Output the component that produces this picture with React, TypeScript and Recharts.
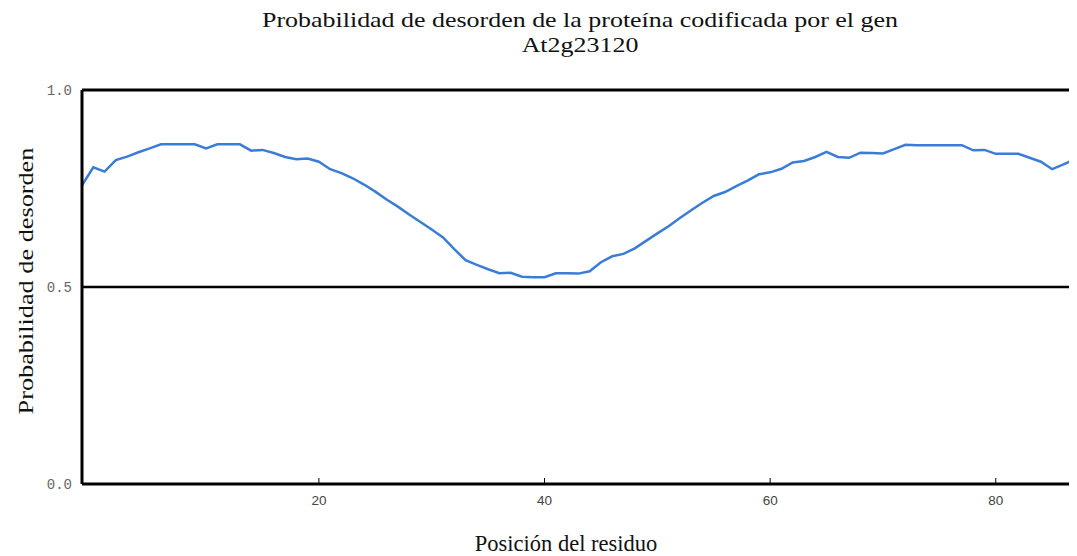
import React from "react";
import { LineChart, Line, XAxis, YAxis, ReferenceLine } from "recharts";

const positions: number[] = [
  -1, 0, 1, 2, 3, 4, 5, 6, 7, 8, 9, 10, 11, 12, 13, 14, 15, 16, 17, 18, 19, 20,
  21, 22, 23, 24, 25, 26, 27, 28, 29, 30, 31, 32, 33, 34, 35, 36, 37, 38, 39, 40,
  41, 42, 43, 44, 45, 46, 47, 48, 49, 50, 51, 52, 53, 54, 55, 56, 57, 58, 59, 60,
  61, 62, 63, 64, 65, 66, 67, 68, 69, 70, 71, 72, 73, 74, 75, 76, 77, 78, 79, 80,
  81, 82, 83, 84, 85, 86, 87,
];

const disorder: number[] = [
  0.758, 0.804, 0.793, 0.822, 0.831, 0.842, 0.852, 0.862, 0.862, 0.862, 0.862, 0.852,
  0.862, 0.862, 0.862, 0.846, 0.848, 0.84, 0.83, 0.824, 0.826, 0.818,
  0.799, 0.789, 0.776, 0.76, 0.742, 0.722, 0.704, 0.684, 0.665, 0.646,
  0.626, 0.596, 0.568, 0.556, 0.545, 0.535, 0.536, 0.526, 0.525, 0.525,
  0.535, 0.535, 0.534, 0.54, 0.563, 0.578, 0.584, 0.598, 0.617, 0.636,
  0.654, 0.675, 0.695, 0.714, 0.731, 0.741, 0.756, 0.77, 0.786, 0.791,
  0.8, 0.816, 0.82, 0.83, 0.843, 0.83, 0.828, 0.841, 0.84, 0.839,
  0.85, 0.861, 0.86, 0.86, 0.86, 0.86, 0.86, 0.847, 0.848, 0.838,
  0.838, 0.838, 0.828, 0.818, 0.799, 0.811, 0.824,
];

const xTicks: number[] = [20, 40, 60, 80];
const yTicks: number[] = [0, 0.5, 1];

const titleLines: string[] = [
  "Probabilidad de desorden de la proteína codificada por el gen",
  "At2g23120",
];
const xLabel = "Posición del residuo";
const yLabel = "Probabilidad de desorden";

const data = positions.map((p, i) => ({ pos: p, prob: disorder[i] }));

const serif = "'Liberation Serif', 'Times New Roman', serif";

export default function App() {
  return (
    <div style={{ position: "relative", width: 1069, height: 548, background: "#fff" }}>
      <LineChart
        width={1069}
        height={548}
        data={data}
        margin={{ top: 82, right: 0, bottom: 0, left: 0 }}
      >
        <XAxis
          dataKey="pos"
          type="number"
          domain={[-1, 87.2]}
          ticks={xTicks}
          allowDataOverflow
          height={72}
          axisLine={{ stroke: "#000", strokeWidth: 3 }}
          tickLine={{ stroke: "#000", strokeWidth: 1 }}
          tickSize={-6}
          tickMargin={17}
          tick={{ fill: "#444", fontSize: 13.5, fontFamily: "'Liberation Sans', Arial, sans-serif" }}
        />
        <YAxis
          type="number"
          domain={[0, 1]}
          ticks={yTicks}
          width={74}
          tickFormatter={(v: number) => v.toFixed(1)}
          axisLine={{ stroke: "#000", strokeWidth: 3 }}
          tickLine={false}
          tickSize={0}
          tickMargin={10}
          tick={{ fill: "#666", fontSize: 14, fontFamily: "'Liberation Mono', monospace" }}
        />
        <ReferenceLine y={1} stroke="#000" strokeWidth={3} />
        <ReferenceLine y={0.5} stroke="#000" strokeWidth={2.5} />
        <Line
          type="linear"
          dataKey="prob"
          stroke="#3b7dd6"
          strokeWidth={2.5}
          dot={false}
          isAnimationActive={false}
        />
      </LineChart>
      <div
        style={{
          position: "absolute",
          left: 572,
          top: 0,
          transform: "translateX(-50%) scaleX(1.235)",
          textAlign: "center",
          fontFamily: serif,
          fontSize: 21,
          lineHeight: "25px",
          color: "#111",
          whiteSpace: "nowrap",
        }}
      >
        <div>{titleLines[0]}</div>
        <div>{titleLines[1]}</div>
      </div>
      <div
        style={{
          position: "absolute",
          left: 558,
          top: 523,
          transform: "translateX(-50%)",
          fontFamily: serif,
          fontSize: 22.5,
          lineHeight: "26px",
          color: "#111",
          whiteSpace: "nowrap",
        }}
      >
        {xLabel}
      </div>
      <div
        style={{
          position: "absolute",
          left: 18,
          top: 273,
          transform: "translate(-50%, -50%) rotate(-90deg) scaleX(1.25)",
          fontFamily: serif,
          fontSize: 21,
          lineHeight: "26px",
          color: "#111",
          whiteSpace: "nowrap",
        }}
      >
        {yLabel}
      </div>
    </div>
  );
}
